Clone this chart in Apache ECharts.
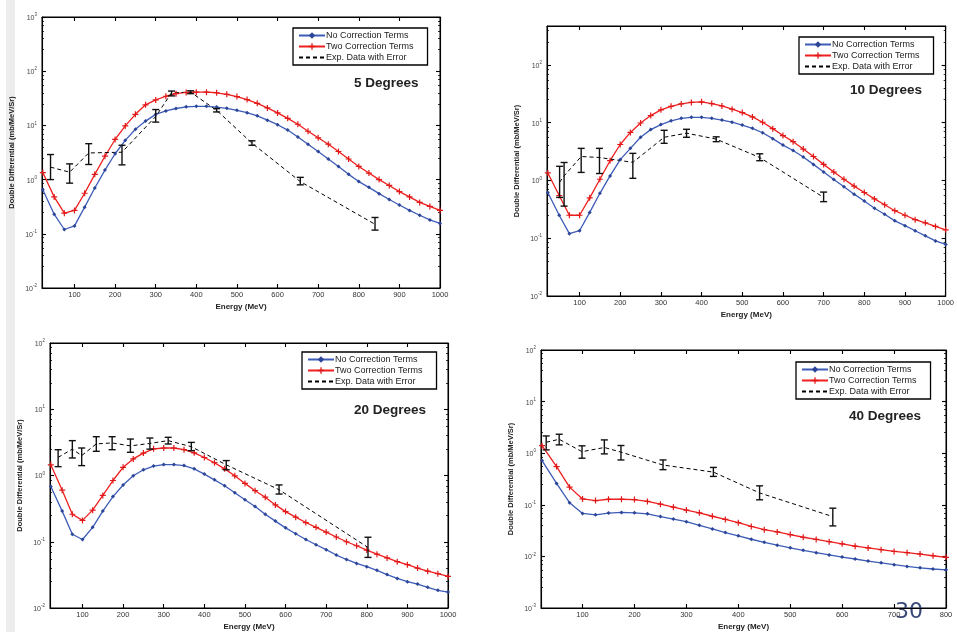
<!DOCTYPE html>
<html>
<head>
<meta charset="utf-8">
<script src="https://cdn.jsdelivr.net/npm/echarts@6/dist/echarts.min.js"></script>
<style>
  html, body { margin: 0; padding: 0; background: #fff; }
  #chart { width: 957px; height: 632px; }
</style>
</head>
<body>
<div id="chart"></div>
<script>
// ---- energy grids (MeV) ----
const energyTo1000 = [22, 50, 75, 100, 125, 150, 175, 200, 225, 250, 275, 300, 325, 350, 375, 400, 425, 450, 475, 500,
  525, 550, 575, 600, 625, 650, 675, 700, 725, 750, 775, 800, 825, 850, 875, 900, 925, 950, 975, 1000];
const energyTo800 = [22, 50, 75, 100, 125, 150, 175, 200, 225, 250, 275, 300, 325, 350, 375, 400,
  425, 450, 475, 500, 525, 550, 575, 600, 625, 650, 675, 700, 725, 750, 775, 800];

// ---- tick values ----
const xTicks1000 = [100, 200, 300, 400, 500, 600, 700, 800, 900, 1000];
const xTicks800 = [100, 200, 300, 400, 500, 600, 700, 800];
const yTicks5deg = [0.01, 0.1, 1, 10, 100, 1000];
const yTicks10deg = [0.01, 0.1, 1, 10, 100];
const yTicks20deg = [0.01, 0.1, 1, 10, 100];
const yTicks40deg = [0.001, 0.01, 0.1, 1, 10, 100];

// ---- 5 degrees ----
const noCorr5 = [0.65, 0.23, 0.12, 0.14, 0.31, 0.7, 1.5, 3.0, 5.3, 8.5, 12, 16, 18.5, 20.5, 22, 22.5, 22.5, 21.8, 20.7, 19,
  17.2, 15, 12.5, 10.3, 8.2, 6.1, 4.5, 3.3, 2.4, 1.75, 1.25, 0.92, 0.72, 0.55, 0.43, 0.34, 0.27, 0.22, 0.18, 0.155];
const twoCorr5 = [1.35, 0.48, 0.24, 0.27, 0.56, 1.25, 2.7, 5.5, 9.8, 16, 24, 29.5, 34.5, 38.5, 40.5, 41, 41, 40, 37.5, 34,
  30, 25.5, 21, 17, 13.5, 10.5, 7.8, 5.9, 4.5, 3.3, 2.4, 1.75, 1.32, 1.0, 0.78, 0.6, 0.48, 0.38, 0.32, 0.27];
const exp5E = [41, 88, 135, 217, 300, 339, 386, 450, 537, 656, 840];
const exp5 = [1.7, 1.37, 3.1, 3.2, 14.6, 40, 41, 19, 4.7, 0.92, 0.15];
const exp5Lo = [1.0, 0.86, 1.9, 1.87, 11.5, 35, 38.5, 17.7, 4.3, 0.8, 0.117];
const exp5Hi = [2.9, 1.95, 4.6, 4.3, 19.6, 43, 43.5, 20.4, 5.2, 1.1, 0.2];

// ---- 10 degrees ----
const noCorr10 = [0.62, 0.25, 0.12, 0.135, 0.28, 0.6, 1.2, 2.3, 3.6, 5.6, 7.6, 9.3, 10.8, 11.9, 12.4, 12.4, 11.9, 11.1, 10.2, 9.1,
  8.0, 6.7, 5.3, 4.1, 3.3, 2.55, 1.9, 1.4, 1.04, 0.78, 0.58, 0.44, 0.33, 0.26, 0.2, 0.165, 0.135, 0.11, 0.09, 0.078];
const twoCorr10 = [1.35, 0.55, 0.25, 0.25, 0.5, 1.05, 2.2, 4.2, 6.8, 9.9, 13.3, 16.7, 19.2, 21.2, 22.5, 23, 21.5, 19.5, 17.2, 15,
  12.6, 10.2, 7.9, 6.0, 4.7, 3.5, 2.6, 1.9, 1.4, 1.05, 0.8, 0.62, 0.48, 0.38, 0.3, 0.25, 0.21, 0.185, 0.16, 0.14];
const exp10E = [51, 62, 104, 149, 231, 308, 363, 436, 543, 700];
const exp10 = [0.93, 1.2, 2.6, 2.5, 2.06, 5.6, 6.6, 5.2, 2.5, 0.51];
const exp10Lo = [0.51, 0.36, 1.38, 1.32, 1.09, 4.4, 5.6, 4.7, 2.2, 0.43];
const exp10Hi = [1.76, 2.05, 3.6, 3.6, 2.95, 7.4, 7.7, 5.7, 2.9, 0.63];

// ---- 20 degrees ----
const noCorr20 = [0.68, 0.29, 0.13, 0.108, 0.165, 0.29, 0.48, 0.72, 0.99, 1.22, 1.39, 1.46, 1.46, 1.41, 1.26, 1.05, 0.86, 0.7, 0.55, 0.43,
  0.34, 0.26, 0.205, 0.162, 0.132, 0.108, 0.09, 0.076, 0.063, 0.054, 0.047, 0.042, 0.037, 0.032, 0.028, 0.025, 0.023, 0.0205, 0.0185, 0.0174];
const twoCorr20 = [1.45, 0.6, 0.26, 0.21, 0.3, 0.5, 0.84, 1.33, 1.78, 2.18, 2.53, 2.6, 2.6, 2.45, 2.2, 1.87, 1.56, 1.26, 0.99, 0.76,
  0.59, 0.47, 0.36, 0.285, 0.235, 0.195, 0.165, 0.14, 0.118, 0.1, 0.087, 0.075, 0.065, 0.057, 0.05, 0.045, 0.04, 0.036, 0.033, 0.03];
const exp20E = [40, 75, 98, 134, 173, 218, 266, 311, 368, 454, 584, 803];
const exp20 = [1.88, 2.5, 2.0, 3.0, 3.1, 2.8, 3.05, 3.36, 2.72, 1.45, 0.61, 0.082];
const exp20Lo = [1.36, 1.84, 1.41, 2.32, 2.45, 2.24, 2.5, 2.99, 2.37, 1.22, 0.525, 0.058];
const exp20Hi = [2.45, 3.36, 2.6, 3.85, 3.85, 3.55, 3.68, 3.77, 3.16, 1.68, 0.72, 0.117];

// ---- 40 degrees ----
const noCorr40 = [0.72, 0.26, 0.11, 0.068, 0.064, 0.069, 0.071, 0.07, 0.067, 0.059, 0.053, 0.047, 0.04, 0.034, 0.029, 0.025,
  0.0215, 0.0187, 0.0165, 0.0147, 0.0131, 0.0118, 0.0107, 0.0097, 0.0089, 0.0081, 0.0075, 0.0069, 0.0064, 0.006, 0.0057, 0.0055];
const twoCorr40 = [1.4, 0.55, 0.22, 0.13, 0.121, 0.128, 0.128, 0.126, 0.116, 0.103, 0.09, 0.079, 0.07, 0.06, 0.052, 0.045,
  0.038, 0.033, 0.0298, 0.0265, 0.0235, 0.0213, 0.0193, 0.0175, 0.0158, 0.0146, 0.0135, 0.0125, 0.0118, 0.0111, 0.0103, 0.0096];
const exp40E = [30, 55, 99, 142, 174, 255, 352, 441, 582];
const exp40 = [1.63, 1.86, 1.07, 1.29, 1.05, 0.59, 0.43, 0.17, 0.059];
const exp40Lo = [1.16, 1.45, 0.8, 0.97, 0.74, 0.48, 0.355, 0.125, 0.039];
const exp40Hi = [2.16, 2.33, 1.39, 1.81, 1.41, 0.74, 0.53, 0.233, 0.086];

const NAME_NO = 'No Correction Terms';
const NAME_TWO = 'Two Correction Terms';
const NAME_EXP = 'Exp. Data with Error';
const FONT = '"Liberation Sans", Arial, sans-serif';
const BLUE = '#3d5cb8';
const RED = '#f01e1e';
const PLUS = 'path://M-0.6,-3H0.6V-0.6H3V0.6H0.6V3H-0.6V0.6H-3V-0.6H-0.6Z';

const panels = [
  { title: '5 Degrees', grid: { left: 42, top: 17, width: 398, height: 271 }, xMax: 1000, yMin: 0.01, yMax: 1000,
    xTicks: xTicks1000, yTicks: yTicks5deg, energy: energyTo1000, no: noCorr5, two: twoCorr5,
    expE: exp5E, exp: exp5, lo: exp5Lo, hi: exp5Hi, legend: { left: 293, top: 28 }, titlePos: { left: 354, top: 76 } },
  { title: '10 Degrees', grid: { left: 547, top: 26, width: 399, height: 270 }, xMax: 1000, yMin: 0.01, yMax: 473,
    xTicks: xTicks1000, yTicks: yTicks10deg, energy: energyTo1000, no: noCorr10, two: twoCorr10,
    expE: exp10E, exp: exp10, lo: exp10Lo, hi: exp10Hi, legend: { left: 799, top: 37 }, titlePos: { left: 850, top: 83 } },
  { title: '20 Degrees', grid: { left: 50, top: 343, width: 398, height: 265 }, xMax: 1000, yMin: 0.01, yMax: 100,
    xTicks: xTicks1000, yTicks: yTicks20deg, energy: energyTo1000, no: noCorr20, two: twoCorr20,
    expE: exp20E, exp: exp20, lo: exp20Lo, hi: exp20Hi, legend: { left: 302, top: 352 }, titlePos: { left: 354, top: 403 } },
  { title: '40 Degrees', grid: { left: 541, top: 350, width: 405, height: 259 }, xMax: 800, yMin: 0.001, yMax: 100,
    xTicks: xTicks800, yTicks: yTicks40deg, energy: energyTo800, no: noCorr40, two: twoCorr40,
    expE: exp40E, exp: exp40, lo: exp40Lo, hi: exp40Hi, legend: { left: 796, top: 362 }, titlePos: { left: 849, top: 409 } }
];

function zip(xs, ys) { return xs.map((x, i) => [x, ys[i]]); }
function zip3(xs, a, b) { return xs.map((x, i) => [x, a[i], b[i]]); }

function powerLabel(v) {
  const e = Math.round(Math.log10(v));
  return '{b|10}{e|' + e + '}';
}

function renderErrorBar(params, api) {
  const x = api.value(0);
  const lo = api.coord([x, api.value(1)]);
  const hi = api.coord([x, api.value(2)]);
  const w = 3.5;
  const style = { stroke: '#111', lineWidth: 1.4, fill: null };
  return {
    type: 'group',
    children: [
      { type: 'line', shape: { x1: lo[0], y1: lo[1], x2: hi[0], y2: hi[1] }, style: style },
      { type: 'line', shape: { x1: lo[0] - w, y1: lo[1], x2: lo[0] + w, y2: lo[1] }, style: style },
      { type: 'line', shape: { x1: hi[0] - w, y1: hi[1], x2: hi[0] + w, y2: hi[1] }, style: style }
    ]
  };
}

const option = {
  animation: false,
  backgroundColor: '#fff',
  textStyle: { fontFamily: FONT },
  grid: [], xAxis: [], yAxis: [], series: [], legend: [], title: [],
  graphic: [
    { type: 'rect', shape: { x: 6, y: 0, width: 9, height: 632 }, style: { fill: '#ededed' }, silent: true },
    { type: 'text', left: 895, top: 601, style: { text: '30', fontSize: 22, fill: '#3a4a78', fontFamily: '"DejaVu Sans", sans-serif' } }
  ]
};

panels.forEach((p, i) => {
  option.grid.push(Object.assign({ show: true, borderColor: '#000', borderWidth: 1, backgroundColor: 'transparent' }, p.grid));
  const lineStyle = { color: '#000', width: 1.1 };
  // bottom and top x axes
  option.xAxis.push({
    type: 'value', gridIndex: i, min: 20, max: p.xMax, position: 'bottom',
    name: 'Energy (MeV)', nameLocation: 'middle', nameGap: 15,
    nameTextStyle: { fontSize: 8, fontWeight: 'bold', color: '#222' },
    axisLine: { lineStyle: lineStyle },
    axisTick: { inside: true, length: 4, lineStyle: lineStyle, customValues: p.xTicks },
    axisLabel: { fontSize: 7.5, color: '#333', margin: 3, customValues: p.xTicks, formatter: v => String(v) },
    splitLine: { show: false }
  });
  option.xAxis.push({
    type: 'value', gridIndex: i, min: 20, max: p.xMax, position: 'top',
    axisLine: { lineStyle: lineStyle },
    axisTick: { inside: true, length: 4, lineStyle: lineStyle, customValues: p.xTicks },
    axisLabel: { show: false },
    splitLine: { show: false }
  });
  // left and right log y axes
  option.yAxis.push({
    type: 'log', logBase: 10, gridIndex: i, min: p.yMin, max: p.yMax, position: 'left',
    name: 'Double Differential (mb/MeV/Sr)', nameLocation: 'middle', nameGap: 26, nameRotate: 90,
    nameTextStyle: { fontSize: 7.5, fontWeight: 'bold', color: '#222' },
    axisLine: { lineStyle: lineStyle },
    axisTick: { inside: true, length: 4, lineStyle: lineStyle, customValues: p.yTicks },
    minorTick: { show: true, splitNumber: 6, length: 2, lineStyle: { color: '#000', width: 0.8 } },
    axisLabel: {
      margin: 5, customValues: p.yTicks, formatter: powerLabel,
      rich: {
        b: { fontSize: 7, color: '#444', lineHeight: 9, verticalAlign: 'bottom' },
        e: { fontSize: 4.5, color: '#444', lineHeight: 5, verticalAlign: 'top' }
      }
    },
    splitLine: { show: false }
  });
  option.yAxis.push({
    type: 'log', logBase: 10, gridIndex: i, min: p.yMin, max: p.yMax, position: 'right',
    axisLine: { lineStyle: lineStyle },
    axisTick: { inside: true, length: 4, lineStyle: lineStyle, customValues: p.yTicks },
    minorTick: { show: true, splitNumber: 6, length: 2, lineStyle: { color: '#000', width: 0.8 } },
    axisLabel: { show: false },
    splitLine: { show: false }
  });

  const xi = 2 * i, yi = 2 * i;
  option.series.push({
    name: NAME_NO, type: 'line', xAxisIndex: xi, yAxisIndex: yi,
    data: zip(p.energy, p.no),
    symbol: 'diamond', symbolSize: 4, showSymbol: true,
    lineStyle: { color: BLUE, width: 1.3 },
    itemStyle: { color: '#2c4597' }
  });
  option.series.push({
    name: NAME_TWO, type: 'line', xAxisIndex: xi, yAxisIndex: yi,
    data: zip(p.energy, p.two),
    symbol: PLUS, symbolSize: 6, showSymbol: true,
    lineStyle: { color: RED, width: 1.3 },
    itemStyle: { color: '#e01818' }
  });
  option.series.push({
    name: NAME_EXP, type: 'line', xAxisIndex: xi, yAxisIndex: yi,
    data: zip(p.expE, p.exp),
    symbol: 'none',
    lineStyle: { color: '#000', width: 1, type: [4, 3] },
    itemStyle: { color: '#000' }
  });
  option.series.push({
    name: 'Exp. error', type: 'custom', xAxisIndex: xi, yAxisIndex: yi,
    data: zip3(p.expE, p.lo, p.hi),
    encode: { x: 0, y: [1, 2] },
    renderItem: renderErrorBar,
    z: 5
  });

  option.legend.push({
    left: p.legend.left, top: p.legend.top, orient: 'vertical',
    data: [NAME_NO, NAME_TWO, { name: NAME_EXP, itemStyle: { opacity: 0 } }],
    selectedMode: false,
    itemWidth: 26, itemHeight: 8, itemGap: 2,
    padding: [3, 14, 3, 5],
    backgroundColor: '#fff', borderColor: '#000', borderWidth: 1.3, borderRadius: 0,
    textStyle: { fontSize: 9, color: '#222', fontFamily: FONT, padding: [0, 0, 0, -4] }
  });

  option.title.push({
    text: p.title, left: p.titlePos.left, top: p.titlePos.top, padding: 0,
    textStyle: { fontSize: 13.5, fontWeight: 'bold', color: '#222', fontFamily: FONT }
  });
});

const chart = echarts.init(document.getElementById('chart'), null, { renderer: 'canvas' });
chart.setOption(option);
</script>
</body>
</html>
